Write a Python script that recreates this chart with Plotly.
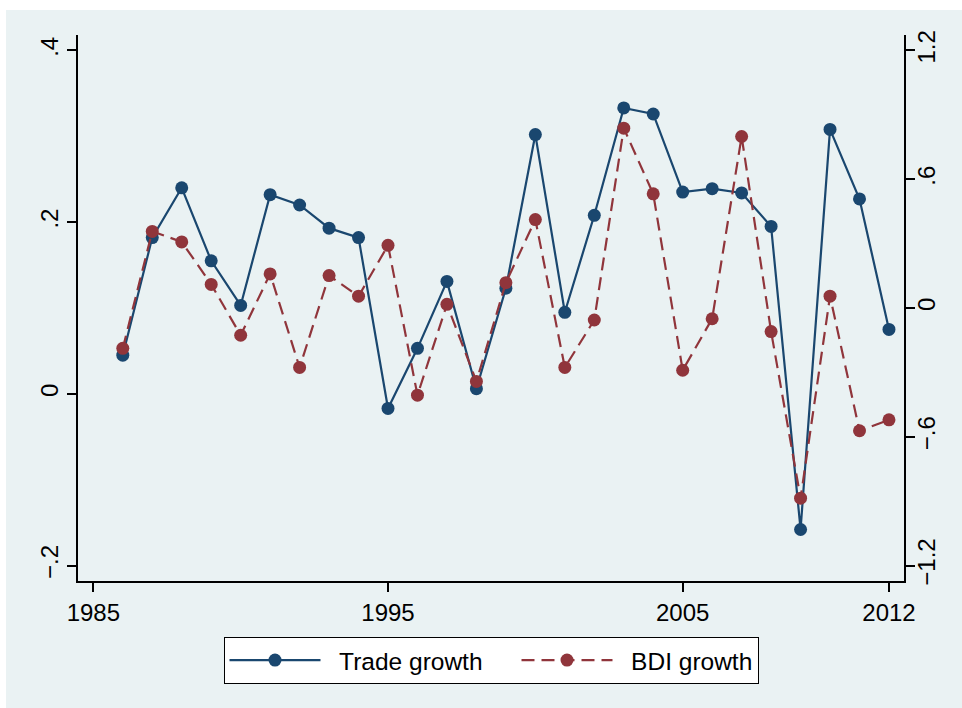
import plotly.graph_objects as go

years = list(range(1986, 2013))
trade_growth = [0.045, 0.182, 0.240, 0.155, 0.103, 0.232, 0.220, 0.193, 0.182, -0.017,
                0.053, 0.131, 0.006, 0.123, 0.302, 0.095, 0.208, 0.333, 0.326, 0.235,
                0.239, 0.234, 0.195, -0.158, 0.308, 0.227, 0.075]
bdi_growth = [-0.188, 0.357, 0.308, 0.110, -0.127, 0.159, -0.277, 0.151, 0.055, 0.292,
              -0.406, 0.017, -0.342, 0.118, 0.412, -0.277, -0.056, 0.838, 0.532, -0.290,
              -0.050, 0.799, -0.110, -0.886, 0.055, -0.572, -0.521]

x_ticks = [1985, 1995, 2005, 2012]
left_ticks = [-0.2, 0, 0.2, 0.4]
left_labels = ["\u2212.2", "0", ".2", ".4"]
right_ticks = [-1.2, -0.6, 0, 0.6, 1.2]
right_labels = ["\u22121.2", "\u2212.6", "0", ".6", "1.2"]

NAVY = "#1A476F"
MAROON = "#90353B"
BG = "#EAF2F3"
FONT = "Liberation Sans, Arial, sans-serif"
NB = "\u00a0\u00a0"

fig = go.Figure()
fig.add_trace(go.Scatter(
    x=years, y=trade_growth, name=NB + "Trade growth", mode="lines+markers",
    line=dict(color=NAVY, width=2.2), marker=dict(color=NAVY, size=13),
    yaxis="y", legendwidth=186))
fig.add_trace(go.Scatter(
    x=years, y=bdi_growth, name=NB + "BDI growth", mode="lines+markers",
    line=dict(color=MAROON, width=2.2, dash="13px,7px"), marker=dict(color=MAROON, size=13),
    yaxis="y2"))

fig.update_layout(
    width=962, height=708,
    margin=dict(l=78, r=58, t=35, b=127),
    paper_bgcolor="white",
    plot_bgcolor="white",
    font=dict(family=FONT, size=24, color="black"),
    showlegend=True,
    legend=dict(
        orientation="h", x=0.5, xanchor="center", y=-0.102, yanchor="top",
        bgcolor="white", bordercolor="black", borderwidth=1,
        font=dict(family=FONT, size=24.5, color="black"),
        itemwidth=91, traceorder="normal",
    ),
    xaxis=dict(
        range=[1984.48, 2012.51], tickvals=x_ticks, ticktext=[str(t) for t in x_ticks],
        showgrid=False, zeroline=False, showline=True, linecolor="black", linewidth=1.5,
        ticks="outside", ticklen=9, tickcolor="black", tickwidth=1.5,
        tickfont=dict(size=24),
    ),
    yaxis=dict(
        range=[-0.218, 0.418], tickvals=left_ticks, ticktext=left_labels,
        showgrid=True, gridcolor=BG, gridwidth=2, zeroline=False,
        showline=True, linecolor="black", linewidth=1.5,
        ticks="outside", ticklen=9, tickcolor="black", tickwidth=1.5,
        tickangle=-90, tickfont=dict(size=24),
    ),
    yaxis2=dict(
        range=[-1.272, 1.272], tickvals=right_ticks, ticktext=right_labels,
        overlaying="y", side="right", showgrid=False, zeroline=False,
        showline=True, linecolor="black", linewidth=1.5,
        ticks="outside", ticklen=9, tickcolor="black", tickwidth=1.5,
        tickangle=-90, tickfont=dict(size=24), ticklabelstandoff=-9,
    ),
    shapes=[dict(
        type="rect", xref="paper", yref="paper",
        x0=-72 / 826, x1=1 + 58 / 826, y0=-127 / 546, y1=1 + 25 / 546,
        fillcolor=BG, line=dict(width=0), layer="below",
    )],
)

fig.write_html("out.html")
